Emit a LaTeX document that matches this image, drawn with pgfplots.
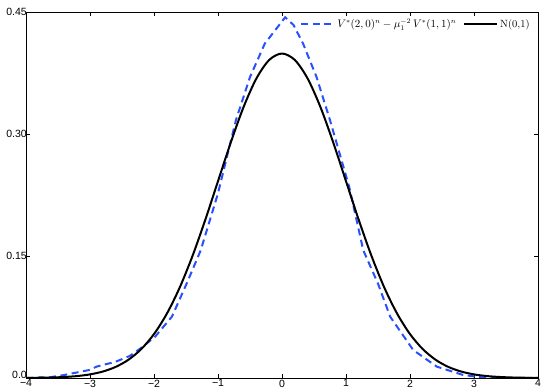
\documentclass[border=0pt]{standalone}
\usepackage{fontspec}
\usepackage{pgfplots}
\pgfplotsset{compat=1.18}
\newfontfamily\ticksf{Liberation Sans}
\definecolor{dashblue}{RGB}{40,80,255}

\pgfplotstableread{
x y
-4.00 0.0000
-3.60 0.0012
-3.40 0.0037
-3.00 0.0100
-2.90 0.0139
-2.60 0.0200
-2.38 0.0270
-2.20 0.0370
-1.98 0.0510
-1.72 0.0754
-1.49 0.1160
-1.27 0.1570
-1.00 0.2270
-0.72 0.3170
-0.50 0.3700
-0.27 0.4110
0.05 0.4435
0.18 0.4340
0.33 0.4110
0.54 0.3700
0.75 0.3170
1.05 0.2350
1.27 0.1570
1.50 0.1160
1.69 0.0754
2.05 0.0344
2.42 0.0139
2.83 0.0037
3.20 0.0000
4.00 0.0000
}\empirical

% standard normal density
\pgfplotstableread{
x y
-4.0 0.00013
-3.8 0.00029
-3.6 0.00061
-3.4 0.00123
-3.2 0.00238
-3.0 0.00443
-2.8 0.00792
-2.6 0.01358
-2.4 0.02239
-2.2 0.03547
-2.0 0.05399
-1.8 0.07895
-1.6 0.11092
-1.4 0.14973
-1.2 0.19419
-1.0 0.24197
-0.8 0.28969
-0.6 0.33322
-0.4 0.36827
-0.2 0.39104
0.0 0.39894
0.2 0.39104
0.4 0.36827
0.6 0.33322
0.8 0.28969
1.0 0.24197
1.2 0.19419
1.4 0.14973
1.6 0.11092
1.8 0.07895
2.0 0.05399
2.2 0.03547
2.4 0.02239
2.6 0.01358
2.8 0.00792
3.0 0.00443
3.2 0.00238
3.4 0.00123
3.6 0.00061
3.8 0.00029
4.0 0.00013
}\normal

\begin{document}
\begin{tikzpicture}
\begin{axis}[
    scale only axis,
    width=512pt, height=366pt,
    xmin=-4, xmax=4, ymin=0, ymax=0.45,
    xtick={-4,-3,-2,-1,0,1,2,3,4},
    xticklabels={−4,−3,−2,−1,0,1,2,3,4},
    ytick={0.15,0.30,0.45},
    yticklabels={0.15,0.30,0.45},
    extra y ticks={0},
    extra y tick labels={0.0},
    extra y tick style={yticklabel style={yshift=3pt}},
    tick align=inside,
    major tick length=4pt,
    tick style={black, line width=0.5pt},
    axis line style={black, line width=0.6pt},
    tick label style={font=\ticksf\fontsize{10.5}{12}\selectfont},
    xticklabel style={yshift=-0.5pt, inner sep=1pt},
    yticklabel style={xshift=2pt, inner sep=1pt},
    legend columns=2,
    legend style={at={(0.99,0.99)}, anchor=north east, draw=none, fill=none,
        font=\fontsize{10.5}{12}\selectfont, inner sep=1pt,
        /tikz/every even column/.append style={column sep=5pt}},
    legend image code/.code={\draw[#1] (0pt,0pt) -- (33pt,0pt);},
]
\addplot[dashblue, line width=2pt, dash pattern=on 7pt off 4.5pt] table {\empirical};
\addplot[black, line width=2pt, smooth] table {\normal};
\legend{{$V^*(2,0)^n-\mu_1^{-2}\,V^*(1,1)^n$}, {N(0,1)}}
\end{axis}
\path ([xshift=-26pt,yshift=-14pt]current axis.south west) rectangle ([xshift=9pt,yshift=12pt]current axis.north east);
\end{tikzpicture}
\end{document}
